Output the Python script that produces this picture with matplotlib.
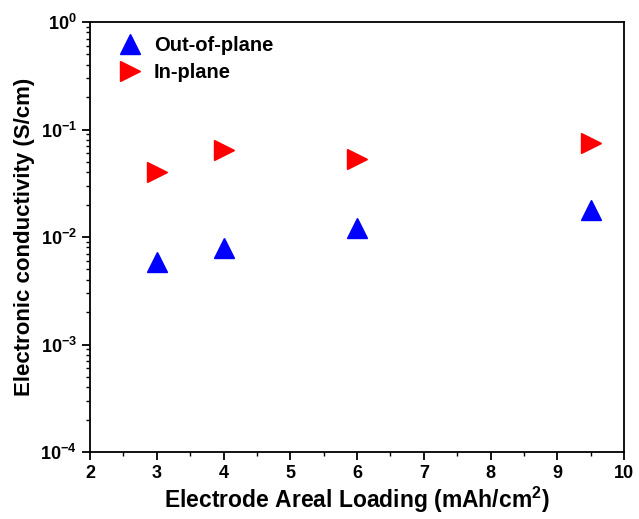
import matplotlib
matplotlib.use("Agg")
import matplotlib.pyplot as plt
from matplotlib.ticker import LogLocator, MultipleLocator, NullFormatter

plt.rcParams['font.family'] = ['Liberation Sans', 'DejaVu Sans']
plt.rcParams['font.weight'] = 'bold'
plt.rcParams['mathtext.default'] = 'bf'
plt.rcParams['mathtext.fontset'] = 'custom'
plt.rcParams['mathtext.bf'] = 'Liberation Sans:bold'
plt.rcParams['mathtext.rm'] = 'Liberation Sans:bold'

loading = [3, 4, 6, 9.5]
out_of_plane = [0.0058, 0.0079, 0.0120, 0.0177]
in_plane = [0.040, 0.064, 0.053, 0.075]

fig = plt.figure(figsize=(6.39, 5.19), dpi=100)
ax = fig.add_axes([90/639, 1-452/519, (624-90)/639, (452-22)/519])

ax.plot(loading, out_of_plane, linestyle='none', marker='^', color='#0000FF', ms=14, label='Out-of-plane')
ax.plot(loading, in_plane, linestyle='none', marker='>', color='#FF0000', ms=14, label='In-plane')

ax.set_yscale('log')
ax.set_xlim(2, 10)
ax.set_ylim(1e-4, 1)
ax.xaxis.set_major_locator(MultipleLocator(1))
ax.xaxis.set_minor_locator(MultipleLocator(0.5))
ax.yaxis.set_major_locator(LogLocator(base=10, numticks=10))
ax.yaxis.set_minor_locator(LogLocator(base=10, subs=range(2, 10), numticks=20))
ax.yaxis.set_minor_formatter(NullFormatter())

ax.tick_params(axis='both', which='major', direction='out', length=6, width=1.3, labelsize=13)
ax.tick_params(axis='both', which='minor', direction='out', length=3, width=1.0)
ax.tick_params(top=False, right=False, which='both')
for s in ax.spines.values():
    s.set_linewidth(1.3)
for lbl in ax.get_xticklabels() + ax.get_yticklabels():
    lbl.set_fontweight('bold')

ax.set_xlabel('Electrode Areal Loading (mAh/cm$^{2}$)', fontsize=16.5, fontweight='bold', labelpad=2)
ax.set_ylabel('Electronic conductivity (S/cm)', fontsize=16, fontweight='bold', labelpad=4)

leg = ax.legend(loc='upper left', frameon=False, fontsize=14.5, handletextpad=0.6, handlelength=1.2,
                borderaxespad=0.3, labelspacing=0.4, bbox_to_anchor=(0.025, 1.0))
for t in leg.get_texts():
    t.set_fontweight('bold')

fig.savefig('out.png', dpi=100)
